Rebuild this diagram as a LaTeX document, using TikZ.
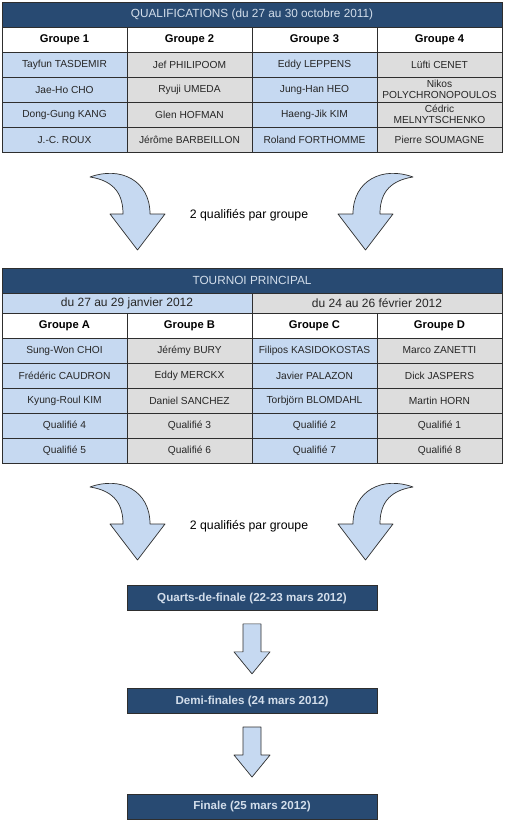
\documentclass[tikz,border=0pt]{standalone}
\usepackage{fontspec}
\setmainfont{Liberation Sans}
\usetikzlibrary{positioning,calc}
\definecolor{headblue}{HTML}{284A72}
\definecolor{headtext}{HTML}{D3DEEB}
\definecolor{cellblue}{HTML}{C6D9F1}
\definecolor{cellgrey}{HTML}{DDDDDD}
\definecolor{rulecol}{HTML}{2E2E2E}

\begin{document}
\begin{tikzpicture}[
  x=1pt, y=-1pt,
  cell/.style={draw=rulecol, line width=0.7pt, minimum width=125pt, minimum height=25pt, inner sep=0pt, align=center, text=black!85, font=\fontsize{10.2}{11.4}\selectfont},
  grouphead/.style={cell, fill=white, text=black, font=\bfseries\fontsize{11.2}{13}\selectfont},
  datehead/.style={cell, minimum width=250pt, minimum height=20pt, font=\fontsize{12}{14}\selectfont},
  tablehead/.style={draw=rulecol, line width=0.7pt, fill=headblue, text=headtext, minimum width=500pt, minimum height=25pt, inner sep=0pt, font=\fontsize{11.8}{14}\selectfont},
  stage/.style={tablehead, minimum width=250pt, font=\bfseries\fontsize{11.6}{14}\selectfont},
  bigarrow/.style={draw=rulecol, line width=0.7pt, fill=cellblue, line join=round},
  qualnote/.style={font=\fontsize{12.3}{14}\selectfont}
]
\useasboundingbox (0,0) rectangle (505,820);

\node[tablehead] (qual) at (252,14.5) {QUALIFICATIONS (du 27 au 30 octobre 2011)};
\foreach \g in {1,...,4}
  \node[grouphead] (qg\g) at (\g*125-60.5,39.5) {Groupe \g};
\foreach \txt [count=\c] in {Tayfun TASDEMIR, Jef PHILIPOOM, Eddy LEPPENS, Lüfti CENET}
  {\ifodd\c\relax\def\fc{cellblue}\else\def\fc{cellgrey}\fi
   \node[cell, fill=\fc] (qa\c) at (\c*125-60.5,64.5) {\txt};}
\foreach \txt [count=\c] in {Jae-Ho CHO, Ryuji UMEDA, Jung-Han HEO, {Nikos\\POLYCHRONOPOULOS}}
  {\ifodd\c\relax\def\fc{cellblue}\else\def\fc{cellgrey}\fi
   \node[cell, fill=\fc] (qb\c) at (\c*125-60.5,89.5) {\txt};}
\foreach \txt [count=\c] in {Dong-Gung KANG, Glen HOFMAN, Haeng-Jik KIM, {Cédric\\MELNYTSCHENKO}}
  {\ifodd\c\relax\def\fc{cellblue}\else\def\fc{cellgrey}\fi
   \node[cell, fill=\fc] (qc\c) at (\c*125-60.5,114.5) {\txt};}
\foreach \txt [count=\c] in {J.-C. ROUX, Jérôme BARBEILLON, Roland FORTHOMME, Pierre SOUMAGNE}
  {\ifodd\c\relax\def\fc{cellblue}\else\def\fc{cellgrey}\fi
   \node[cell, fill=\fc] (qd\c) at (\c*125-60.5,139.5) {\txt};}

\node[qualnote] (note1) at (249,215) {2 qualifiés par groupe};

\node[tablehead] (main) at (252,280.5) {TOURNOI PRINCIPAL};
\node[datehead, fill=cellblue] (jan) at (127,303) {du 27 au 29 janvier 2012};
\node[datehead, fill=cellgrey] (feb) at (377,303) {du 24 au 26 février 2012};
\foreach \g [count=\c] in {A,B,C,D}
  \node[grouphead] (mg\c) at (\c*125-60.5,325.5) {Groupe \g};
\foreach \txt [count=\c] in {Sung-Won CHOI, Jérémy BURY, Filipos KASIDOKOSTAS, Marco ZANETTI}
  {\ifodd\c\relax\def\fc{cellblue}\else\def\fc{cellgrey}\fi
   \node[cell, fill=\fc] (ma\c) at (\c*125-60.5,350.5) {\txt};}
\foreach \txt [count=\c] in {Frédéric CAUDRON, Eddy MERCKX, Javier PALAZON, Dick JASPERS}
  {\ifodd\c\relax\def\fc{cellblue}\else\def\fc{cellgrey}\fi
   \node[cell, fill=\fc] (mb\c) at (\c*125-60.5,375.5) {\txt};}
\foreach \txt [count=\c] in {Kyung-Roul KIM, Daniel SANCHEZ, Torbjörn BLOMDAHL, Martin HORN}
  {\ifodd\c\relax\def\fc{cellblue}\else\def\fc{cellgrey}\fi
   \node[cell, fill=\fc] (mc\c) at (\c*125-60.5,400.5) {\txt};}
\foreach \txt [count=\c] in {Qualifié 4, Qualifié 3, Qualifié 2, Qualifié 1}
  {\ifodd\c\relax\def\fc{cellblue}\else\def\fc{cellgrey}\fi
   \node[cell, fill=\fc] (md\c) at (\c*125-60.5,425.5) {\txt};}
\foreach \txt [count=\c] in {Qualifié 5, Qualifié 6, Qualifié 7, Qualifié 8}
  {\ifodd\c\relax\def\fc{cellblue}\else\def\fc{cellgrey}\fi
   \node[cell, fill=\fc] (me\c) at (\c*125-60.5,450.5) {\txt};}

\node[qualnote] (note2) at (249,526) {2 qualifiés par groupe};

\foreach \dy in {0,310}
  \foreach \side in {1,-1}
    \draw[bigarrow, shift={(251.5-251.5*\side,\dy)}, xscale=\side]
      (90,177) .. controls (120,166) and (150,180) .. (150,214) -- (165,214)
      -- (137.5,250) -- (110,214) -- (123,214)
      .. controls (123,196) and (116,181) .. (90,177) -- cycle;

\node[stage] (quarts) at (252,598) {Quarts-de-finale (22-23 mars 2012)};
\node[stage, below=77.5pt of quarts] (demi) {Demi-finales (24 mars 2012)};
\node[stage, below=79.5pt of demi] (finale) {Finale (25 mars 2012)};

\foreach \a/\b in {quarts/demi, demi/finale}
  \draw[bigarrow] ($(\a.south)+(-9,13)$) -- ++(18,0) -- ++(0,28) -- ++(9,0)
    -- ++(-18,22) -- ++(-18,-22) -- ++(9,0) -- cycle;
\end{tikzpicture}
\end{document}
